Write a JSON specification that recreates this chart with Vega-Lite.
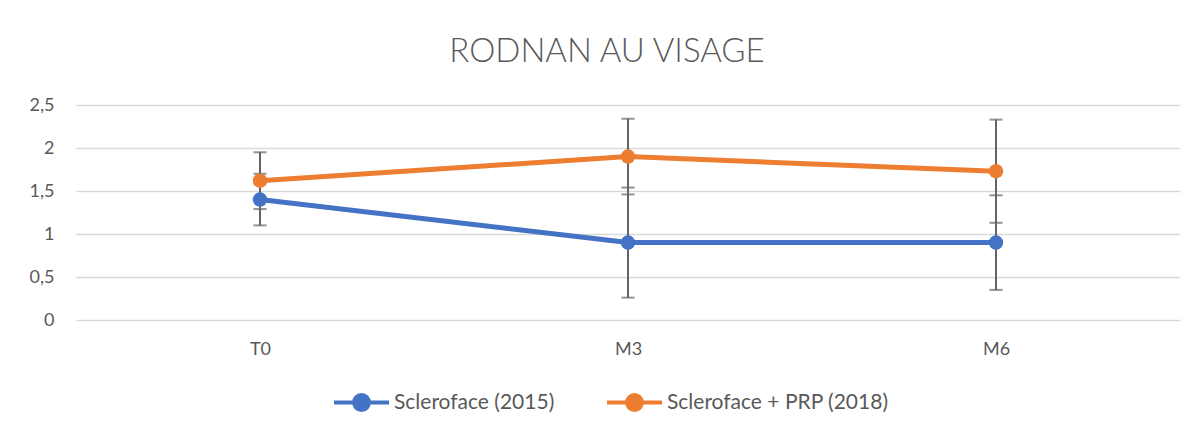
{
  "$schema": "https://vega.github.io/schema/vega-lite/v6.json",
  "width": 1104,
  "height": 215,
  "autosize": {"type": "none"},
  "padding": {"left": 76, "top": 105, "right": 24, "bottom": 119},
  "background": "white",
  "config": {
    "font": "Lato",
    "view": {"stroke": null},
    "axis": {"labelColor": "#595959", "labelFont": "Lato", "labelFontSize": 18}
  },
  "title": {
    "text": "RODNAN AU VISAGE",
    "font": "Lato",
    "fontSize": 33,
    "fontWeight": 300,
    "color": "#595959",
    "anchor": "middle",
    "dx": -21,
    "offset": 27
  },
  "data": {
    "values": [
      {"time": "T0", "series": "Scleroface (2015)", "mean": 1.4, "lo": 1.1, "hi": 1.7},
      {"time": "M3", "series": "Scleroface (2015)", "mean": 0.9, "lo": 0.26, "hi": 1.54},
      {"time": "M6", "series": "Scleroface (2015)", "mean": 0.9, "lo": 0.35, "hi": 1.45},
      {"time": "T0", "series": "Scleroface + PRP (2018)", "mean": 1.62, "lo": 1.29, "hi": 1.95},
      {"time": "M3", "series": "Scleroface + PRP (2018)", "mean": 1.9, "lo": 1.46, "hi": 2.34},
      {"time": "M6", "series": "Scleroface + PRP (2018)", "mean": 1.73, "lo": 1.13, "hi": 2.33}
    ]
  },
  "encoding": {
    "x": {
      "field": "time",
      "type": "nominal",
      "sort": ["T0", "M3", "M6"],
      "scale": {"type": "point", "padding": 0.5},
      "axis": {"title": null, "labelAngle": 0, "domain": false, "ticks": false, "grid": false, "labelPadding": 20, "labelBaseline": "top"}
    }
  },
  "resolve": {"scale": {"y": "shared"}},
  "layer": [
    {
      "mark": {"type": "rule", "color": "#646464", "strokeWidth": 2},
      "encoding": {
        "y": {"field": "lo", "type": "quantitative", "scale": {"domain": [0, 2.5], "nice": false}},
        "y2": {"field": "hi"}
      }
    },
    {
      "mark": {"type": "tick", "orient": "horizontal", "color": "#646464", "thickness": 2, "size": 13},
      "encoding": {"y": {"field": "lo", "type": "quantitative", "scale": {"domain": [0, 2.5], "nice": false}}}
    },
    {
      "mark": {"type": "tick", "orient": "horizontal", "color": "#646464", "thickness": 2, "size": 13},
      "encoding": {"y": {"field": "hi", "type": "quantitative", "scale": {"domain": [0, 2.5], "nice": false}}}
    },
    {
      "mark": {"type": "line", "strokeWidth": 5, "point": {"filled": true, "size": 210, "opacity": 1}},
      "encoding": {
        "y": {
          "field": "mean",
          "type": "quantitative",
          "scale": {"domain": [0, 2.5], "nice": false},
          "axis": {
            "title": null,
            "values": [0, 0.5, 1, 1.5, 2, 2.5],
            "labelExpr": "replace(format(datum.value, ''), '.', ',')",
            "domain": false,
            "ticks": false,
            "gridColor": "#d9d9d9",
            "gridWidth": 1.5,
            "labelPadding": 22
          }
        },
        "color": {
          "field": "series",
          "type": "nominal",
          "scale": {
            "domain": ["Scleroface (2015)", "Scleroface + PRP (2018)"],
            "range": ["#4472C4", "#ED7D31"]
          },
          "legend": {
            "title": null,
            "orient": "none",
            "legendX": 256,
            "legendY": 268,
            "direction": "horizontal",
            "labelFont": "Lato",
            "labelFontSize": 21,
            "labelColor": "#595959",
            "labelLimit": 400,
            "symbolType": "M -1 0 L 1 0 M -0.27 0 A 0.27 0.27 0 1 1 0.27 0 A 0.27 0.27 0 1 1 -0.27 0 Z",
            "symbolSize": 3025,
            "symbolStrokeWidth": 4,
            "labelOffset": 3,
            "columnPadding": 44
          }
        }
      }
    }
  ]
}
